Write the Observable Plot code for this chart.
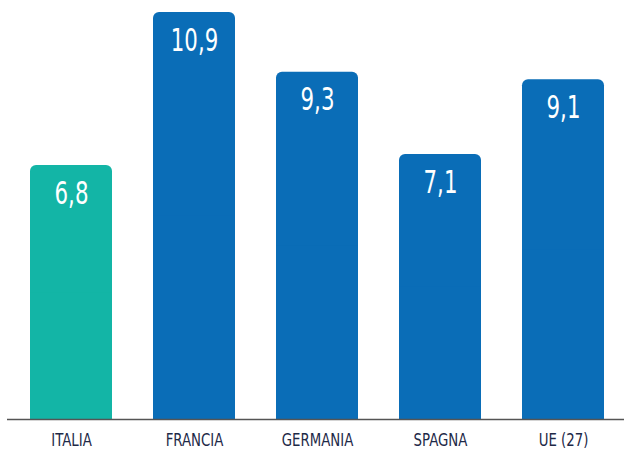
<!DOCTYPE html>
<html><head><meta charset="utf-8">
<script src="https://cdn.jsdelivr.net/npm/d3@7"></script>
<script src="https://cdn.jsdelivr.net/npm/@observablehq/plot@0.6"></script>
<style>
body{margin:0;background:#fff;}
#chart svg{display:block;}
</style></head>
<body><div id="chart"></div>
<script>
const categories = ["ITALIA", "FRANCIA", "GERMANIA", "SPAGNA", "UE (27)"];
const values = [6.8, 10.9, 9.3, 7.1, 9.1];
const labels = ["6,8", "10,9", "9,3", "7,1", "9,1"];
const groups = ["it", "other", "other", "other", "other"];

const data = categories.map((c, i) => ({cat: c, v: values[i], label: labels[i], g: groups[i]}));
const font = "'DejaVu Sans Condensed', 'Liberation Sans Narrow', sans-serif";

const chart = Plot.plot({
  width: 624, height: 450,
  marginTop: 12, marginBottom: 31, marginLeft: 7, marginRight: 0,
  style: {fontFamily: font, background: "#fff"},
  x: {domain: categories, range: [7, 628], paddingInner: 0.33, paddingOuter: 0.17, axis: null},
  y: {domain: [0, 10.9], axis: null},
  color: {domain: ["it", "other"], range: ["#13b5a6", "#0a6db7"]},
  marks: [
    Plot.barY(data, {x: "cat", y: "v", fill: "g", rx: 6}),
    Plot.barY(data, {x: "cat", y1: 0, y2: d => d.v / 2, fill: "g"}),
    Plot.ruleY([0], {stroke: "#555", strokeWidth: 1.5}),
    Plot.text(data, {x: "cat", y: "v", text: "label", dy: 28, fill: "white", fontSize: 32, fontFamily: font, className: "vals"}),
    Plot.text(data, {x: "cat", y: 0, text: "cat", dy: 21, fill: "#1d2947", fontSize: 18.5, fontFamily: font, className: "cats"})
  ]
});
document.getElementById("chart").appendChild(chart);
// condense glyphs horizontally to match the narrow display face
chart.querySelectorAll("g.vals text").forEach(t => {
  const w = t.getComputedTextLength();
  t.setAttribute("lengthAdjust", "spacingAndGlyphs");
  t.setAttribute("textLength", (w * 0.74).toFixed(1));
});
chart.querySelectorAll("g.cats text").forEach(t => {
  const w = t.getComputedTextLength();
  t.setAttribute("lengthAdjust", "spacingAndGlyphs");
  t.setAttribute("textLength", (w * 0.8).toFixed(1));
});
</script></body></html>
